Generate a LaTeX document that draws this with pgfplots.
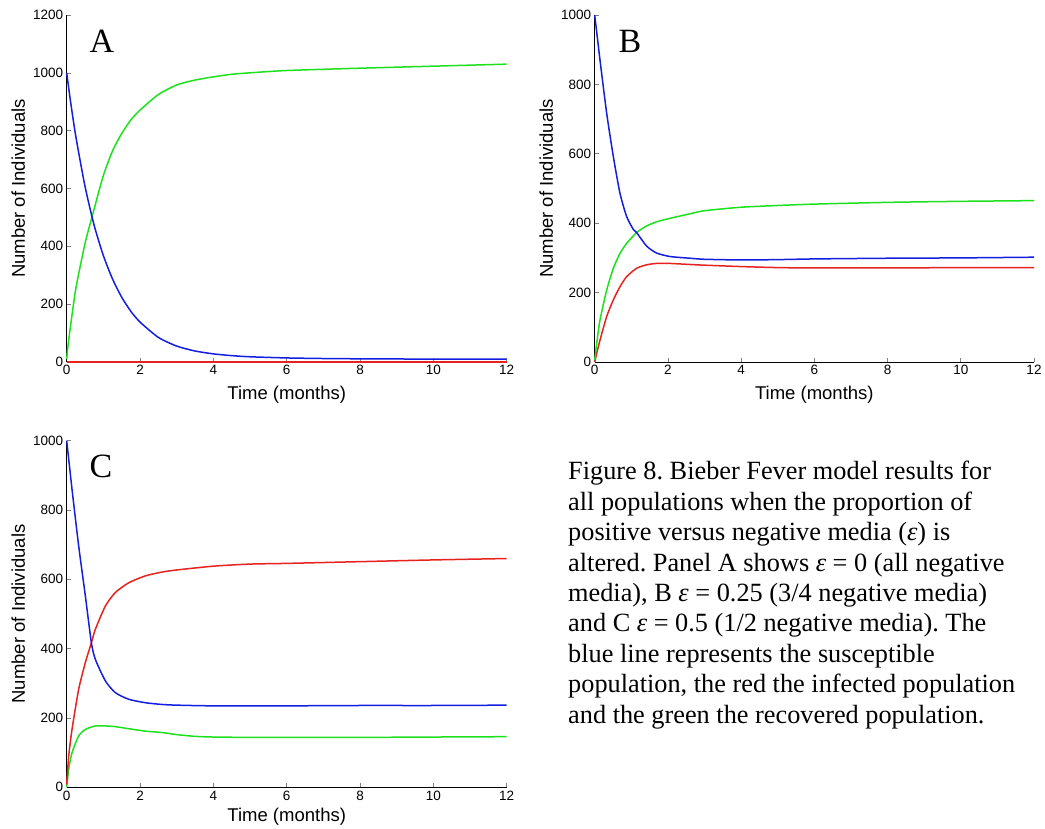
\documentclass[border=0pt]{standalone}
\usepackage{pgfplots}
\pgfplotsset{compat=1.18}
\usepackage{fontspec}
\setmainfont{Liberation Serif}
\newfontfamily\arial{Liberation Sans}

\definecolor{sblue}{RGB}{20,30,225}
\definecolor{ired}{RGB}{230,35,30}
\definecolor{rgreen}{RGB}{30,225,30}

\pgfplotsset{panel/.style={
    scale only axis, width=440pt, height=347pt,
    anchor=south west,
    axis x line*=bottom, axis y line*=left,
    axis line style={line width=0.8pt},
    xmin=0, xmax=12, ymin=0,
    xtick={0,2,...,12},
    tick align=inside, major tick length=4pt,
    tick style={line width=0.6pt},
    tick label style={font=\arial\fontsize{13.5}{15}\selectfont},
    /pgf/number format/assume math mode=true,
    /pgf/number format/1000 sep={},
    scaled ticks=false,
    xlabel={Time (months)}, ylabel={Number of Individuals},
    label style={font=\arial\fontsize{18.5}{20}\selectfont},
    xlabel style={at={(axis description cs:0.5,-0.107)}, anchor=base},
    ylabel style={at={(axis description cs:-0.095,0.5)}, anchor=base},
    every axis plot/.append style={line width=1.5pt, no markers, line join=round, smooth, tension=0.4},
    clip=false
}}

\begin{document}
\begin{tikzpicture}[x=1pt,y=1pt]
\path[use as bounding box] (0,0) rectangle (1045,829);

% panel A
\begin{axis}[panel, at={(66.7pt,467pt)}, ymax=1200, ytick={0,200,...,1200}]
\addplot[ired] coordinates {(0,0) (12,0)};
\addplot[rgreen] coordinates {(0,10) (0.03,50) (0.1,120) (0.25,255) (0.5,410) (0.68,497) (0.75,530) (1,645) (1.25,730) (1.5,790) (1.75,837) (2,871) (2.5,925) (3,958) (3.5,975) (4,986) (4.5,995) (5,1000) (6,1008) (8,1016) (10,1023) (12,1030)};
\addplot[sblue] coordinates {(0,1000) (0.1,905) (0.25,779) (0.5,607) (0.75,472) (1,368) (1.25,287) (1.5,224) (1.75,175) (2,138) (2.5,85) (3,55) (3.5,38) (4,28) (4.5,22) (5,18) (6,14) (7,12) (8,11) (10,10) (12,10)};
\end{axis}

% panel B
\begin{axis}[panel, at={(594.7pt,467pt)}, width=439.3pt, ymax=1000, ytick={0,200,...,1000}]
\addplot[ired] coordinates {(0,0) (0.055,25) (0.145,63) (0.327,131) (0.509,179) (0.691,217) (0.873,246) (1.145,270) (1.418,280) (1.691,284) (2.055,284) (2.6,281) (3,279) (4,275) (5,272) (6,271) (8,271) (10,272) (12,272)};
\addplot[rgreen] coordinates {(0,5) (0.055,54) (0.145,121) (0.327,207) (0.509,270) (0.691,313) (0.873,342) (1.145,373) (1.418,392) (1.691,404) (2.055,414) (2.6,427) (3,436) (4,446) (5,451) (6,455) (8,460) (10,463) (12,465)};
\addplot[sblue] coordinates {(0,1000) (0.145,870) (0.327,717) (0.509,592) (0.691,486) (0.873,419) (1.055,382) (1.145,373) (1.418,334) (1.691,314) (2.055,304) (2.6,299) (3,296) (4,294) (5,295) (6,297) (8,299) (10,300) (12,302)};
\end{axis}

% panel C
\begin{axis}[panel, at={(66.7pt,41.7pt)}, height=346.6pt, ymax=1000, ytick={0,200,...,1000},
    xlabel style={at={(axis description cs:0.5,-0.1)}}]
\addplot[rgreen] coordinates {(0,0) (0.055,52) (0.145,100) (0.327,148) (0.509,167) (0.782,177) (1.055,177) (1.327,175) (1.691,169) (2.145,162) (2.6,158) (3,152) (3.5,147) (4,145) (5,144) (6,144) (8,144) (10,145) (12,146)};
\addplot[ired] coordinates {(0,8) (0.055,90) (0.145,167) (0.327,283) (0.509,360) (0.673,417) (0.782,456) (1.055,523) (1.327,562) (1.691,590) (2.145,610) (2.6,621) (3,627) (4,638) (5,644) (6,646) (8,651) (10,656) (12,660)};
\addplot[sblue] coordinates {(0,1000) (0.145,860) (0.327,696) (0.509,552) (0.673,417) (0.782,369) (1.055,307) (1.327,273) (1.691,254) (2.145,244) (2.6,239) (3,237) (4,235) (6,235) (8,236) (10,236) (12,237)};
\end{axis}

% panel letters
\begin{scope}[every node/.style={anchor=base west, inner sep=0pt, font=\fontsize{34}{36}\selectfont}]
\node at (89.5,776) {A};
\node at (618.5,776) {B};
\node at (89.5,351) {C};
\end{scope}

% caption
\begin{scope}[every node/.style={anchor=base west, inner sep=0pt, font=\fontsize{26.3}{30}\selectfont\frenchspacing}]
\node at (568,349.0) {Figure 8. Bieber Fever model results for};
\node at (568,318.6) {all populations when the proportion of};
\node at (568,288.2) {positive versus negative media (\textit{ε}) is};
\node at (568,257.8) {altered. Panel A shows \textit{ε} = 0 (all negative};
\node at (568,227.4) {media), B \textit{ε} = 0.25 (3/4 negative media)};
\node at (568,197.0) {and C \textit{ε} = 0.5 (1/2 negative media). The};
\node at (568,166.6) {blue line represents the susceptible};
\node at (568,136.2) {population, the red the infected population};
\node at (568,105.8) {and the green the recovered population.};
\end{scope}
\end{tikzpicture}
\end{document}
